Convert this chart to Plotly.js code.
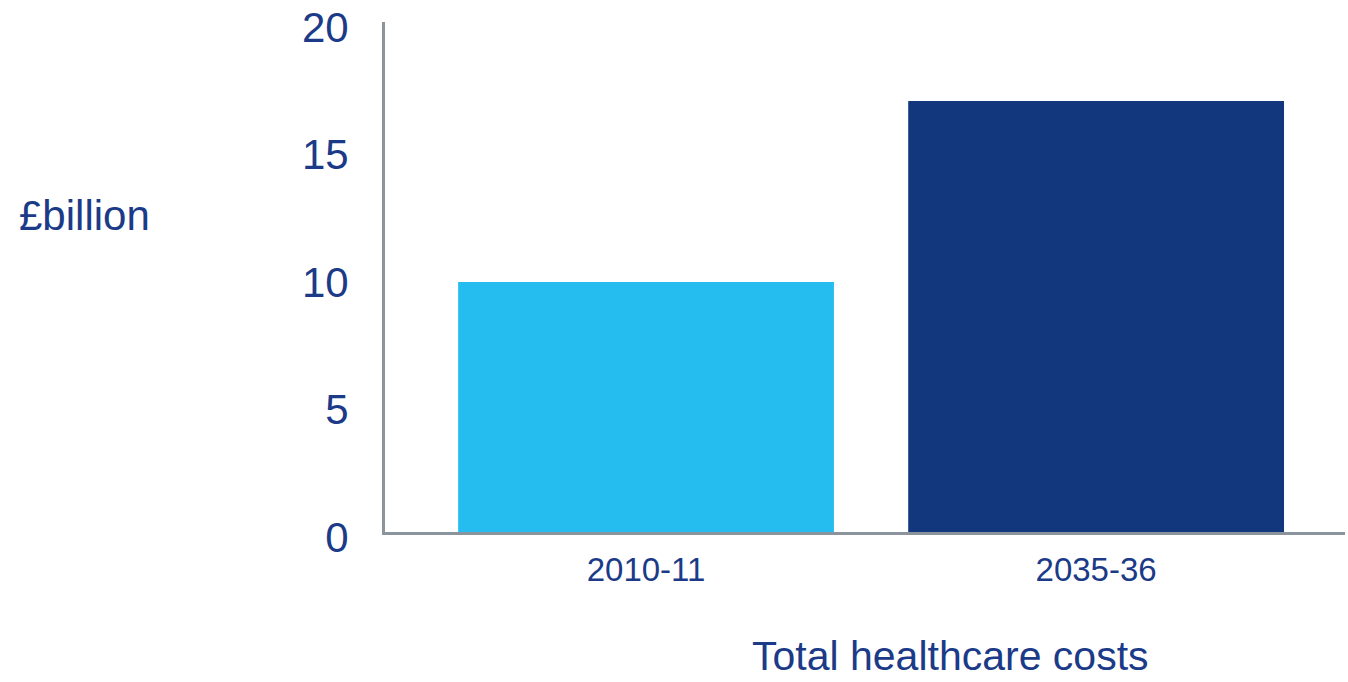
<!DOCTYPE html>
<html>
<head>
<meta charset="utf-8">
<script src="https://cdn.plot.ly/plotly-3.0.1.min.js"></script>
<style>html,body{margin:0;padding:0;background:#fff;}#chart{width:1348px;height:682px;}</style>
</head>
<body>
<div id="chart"></div>
<script>
const categories = ["2010-11", "2035-36"];
const values = [9.8, 16.9];
const barColors = ["#25BDEF", "#12377D"];
const yTicks = [0, 5, 10, 15, 20];
const yLabel = "£billion";
const xLabel = "Total healthcare costs";

const textColor = "#1B3A87";
const fontFam = "Liberation Sans, Arial, Helvetica, sans-serif";

const data = [{
  type: "bar",
  x: categories,
  y: values,
  marker: {color: barColors, line: {width: 0}},
  hoverinfo: "skip"
}];

const layout = {
  width: 1348,
  height: 682,
  margin: {l: 385, r: 3, t: 22, b: 150, pad: 0},
  paper_bgcolor: "#fff",
  plot_bgcolor: "#fff",
  bargap: 0.165,
  showlegend: false,
  font: {family: fontFam, color: textColor},
  xaxis: {
    type: "category",
    range: [-0.58, 1.553],
    showline: true,
    linecolor: "#8B949C",
    linewidth: 3,
    showgrid: false,
    zeroline: false,
    ticks: "",
    tickfont: {size: 33, color: textColor, family: fontFam},
    ticklabelstandoff: 6
  },
  yaxis: {
    range: [0, 20],
    tickvals: yTicks,
    ticktext: yTicks.map(String),
    showline: true,
    linecolor: "#8B949C",
    linewidth: 3,
    showgrid: false,
    zeroline: false,
    ticks: "",
    tickfont: {size: 42, color: textColor, family: fontFam},
    ticklabelstandoff: 25,
    ticklabeloverflow: "allow",
    ticklabelshift: 5
  },
  annotations: [
    {text: yLabel, xref: "paper", yref: "paper", x: -368/960, y: (532-215)/510, xanchor: "left", yanchor: "middle", showarrow: false,
     font: {size: 42, color: textColor, family: fontFam}},
    {text: xLabel, xref: "paper", yref: "paper", x: (950-385)/960, y: -(681-532)/510, xanchor: "center", yanchor: "bottom", showarrow: false,
     font: {size: 41, color: textColor, family: fontFam}}
  ]
};

Plotly.newPlot("chart", data, layout, {displayModeBar: false, staticPlot: true});
</script>
</body>
</html>
